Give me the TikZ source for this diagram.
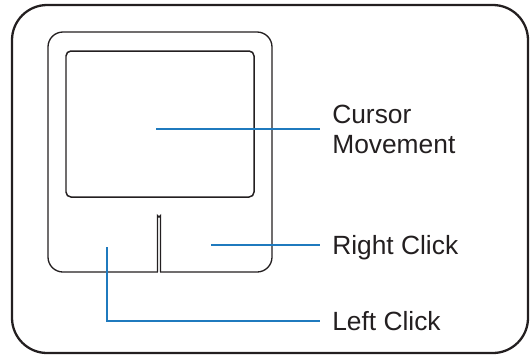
\documentclass[tikz,border=0pt]{standalone}
\usepackage{fontspec}
\setmainfont{Liberation Sans}
\definecolor{leader}{RGB}{31,122,190}
\definecolor{ink}{RGB}{35,31,32}
\tikzset{
  frame/.style={ink, line width=1.3pt, rounded corners=20pt},
  pad/.style={ink, line width=0.75pt},
  leadline/.style={leader, line width=0.95pt},
  label/.style={ink, anchor=west, inner xsep=6.8pt, inner ysep=0pt,
    align=left, font=\fontsize{15}{17}\selectfont}
}
\begin{document}
\begin{tikzpicture}[x=0.02cm, y=-0.02cm]
\useasboundingbox (0,0) rectangle (530,356);

% outer frame
\draw[frame] (12,5) rectangle (528,353);

% touchpad body
\draw[pad, rounded corners=8.5pt] (48,32) rectangle (272,272);
% touch surface
\draw[pad, line width=0.85pt, rounded corners=2.8pt] (66,51) rectangle (254,197);
% slot between the two buttons
\fill[white] (158,269) rectangle (160,275);
\draw[pad] (157.5,272) -- (157.5,215.5) arc[start angle=180, end angle=0, radius=1.5] -- (160.5,272);

% labels
\node[label] (cursor) at (320,129) {Cursor\\Movement};
\node[label, text height=10.7pt, text depth=0pt] (right) at (320,245) {Right Click};
\node[label, text height=10.7pt, text depth=0pt] (left) at (320,321) {Left Click};

% leader lines
\coordinate (surface) at (156,129);
\coordinate (rbutton) at (211,245);
\coordinate (lbutton) at (107,247);
\draw[leadline] (surface) -- (cursor.west);
\draw[leadline] (rbutton) -- (right.west);
\draw[leadline] (lbutton) |- (left.west);

\end{tikzpicture}
\end{document}
